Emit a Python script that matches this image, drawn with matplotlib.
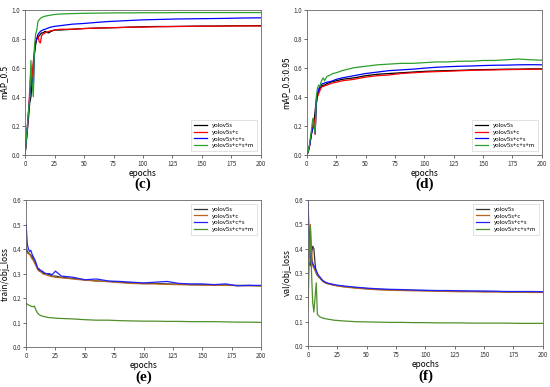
import matplotlib.pyplot as plt

epochs = [0, 1, 2, 3, 4, 5, 6, 7, 8, 9, 10, 11, 12, 13, 14, 15, 17, 20, 22, 25,
          30, 40, 50, 60, 70, 80, 90, 100, 110, 120, 130, 140, 150, 160, 170, 180, 190, 200]
names = ["yolov5s", "yolov5s+c", "yolov5s+c+s", "yolov5s+c+s+m"]

# (c) mAP_0.5
map50_base = [0.0, 0.08, 0.17, 0.26, 0.36, 0.4, 0.5, 0.62, 0.7, 0.76, 0.8, 0.81, 0.82, 0.83, 0.84, 0.84, 0.85, 0.84, 0.85, 0.86,
              0.86, 0.865, 0.87, 0.873, 0.875, 0.877, 0.88, 0.882, 0.884, 0.884, 0.885, 0.886, 0.887, 0.887, 0.888, 0.889, 0.889, 0.89]
map50_c = [0.0, 0.09, 0.18, 0.3, 0.45, 0.6, 0.5, 0.64, 0.72, 0.78, 0.8, 0.82, 0.78, 0.77, 0.82, 0.83, 0.84, 0.85, 0.855, 0.86,
           0.865, 0.865, 0.87, 0.873, 0.875, 0.877, 0.879, 0.88, 0.882, 0.883, 0.884, 0.885, 0.886, 0.886, 0.887, 0.888, 0.888, 0.887]
map50_cs = [0.0, 0.1, 0.2, 0.3, 0.4, 0.48, 0.53, 0.45, 0.7, 0.78, 0.8, 0.83, 0.84, 0.85, 0.855, 0.86, 0.865, 0.875, 0.88, 0.885,
            0.89, 0.9, 0.905, 0.912, 0.918, 0.922, 0.926, 0.93, 0.932, 0.934, 0.936, 0.937, 0.938, 0.939, 0.94, 0.942, 0.943, 0.944]
map50_csm = [0.0, 0.1, 0.2, 0.3, 0.4, 0.65, 0.5, 0.4, 0.75, 0.83, 0.86, 0.92, 0.93, 0.94, 0.945, 0.95, 0.955, 0.96, 0.963, 0.967,
             0.97, 0.973, 0.975, 0.976, 0.977, 0.978, 0.978, 0.979, 0.979, 0.979, 0.98, 0.98, 0.98, 0.98, 0.98, 0.98, 0.98, 0.98]

# (d) mAP_0.5:0.95
map95_base = [0, 0.02, 0.05, 0.1, 0.15, 0.2, 0.22, 0.3, 0.38, 0.42, 0.44, 0.46, 0.47, 0.475, 0.48, 0.48, 0.49, 0.5, 0.505, 0.51,
              0.52, 0.53, 0.545, 0.555, 0.56, 0.565, 0.57, 0.575, 0.578, 0.58, 0.582, 0.585, 0.587, 0.588, 0.59, 0.59, 0.592, 0.592]
map95_c = [0, 0.02, 0.05, 0.1, 0.15, 0.2, 0.25, 0.14, 0.35, 0.4, 0.42, 0.44, 0.46, 0.47, 0.47, 0.475, 0.48, 0.49, 0.495, 0.5,
           0.51, 0.52, 0.535, 0.545, 0.55, 0.56, 0.565, 0.57, 0.573, 0.576, 0.579, 0.582, 0.584, 0.585, 0.587, 0.588, 0.589, 0.59]
map95_cs = [0, 0.02, 0.05, 0.1, 0.15, 0.18, 0.2, 0.15, 0.35, 0.42, 0.45, 0.47, 0.48, 0.49, 0.49, 0.495, 0.5, 0.505, 0.51, 0.52,
            0.53, 0.545, 0.56, 0.57, 0.58, 0.585, 0.59, 0.597, 0.603, 0.607, 0.61, 0.612, 0.615, 0.617, 0.618, 0.62, 0.621, 0.62]
map95_csm = [0, 0.02, 0.06, 0.12, 0.18, 0.25, 0.2, 0.15, 0.4, 0.46, 0.48, 0.47, 0.5, 0.52, 0.53, 0.51, 0.54, 0.55, 0.56, 0.565,
             0.58, 0.6, 0.61, 0.62, 0.625, 0.63, 0.63, 0.635, 0.64, 0.64, 0.645, 0.645, 0.65, 0.65, 0.655, 0.66, 0.655, 0.652]

# (e) train/obj_loss
tobj_base = [0.41, 0.39, 0.385, 0.38, 0.375, 0.37, 0.36, 0.35, 0.34, 0.33, 0.32, 0.315, 0.31, 0.31, 0.305, 0.3, 0.3, 0.295, 0.29, 0.29,
             0.285, 0.28, 0.275, 0.27, 0.268, 0.265, 0.262, 0.26, 0.26, 0.258, 0.257, 0.255, 0.255, 0.254, 0.253, 0.252, 0.252, 0.25]
tobj_c = [0.39, 0.385, 0.38, 0.38, 0.37, 0.36, 0.355, 0.345, 0.335, 0.325, 0.315, 0.31, 0.308, 0.305, 0.3, 0.298, 0.295, 0.29, 0.288, 0.285,
          0.283, 0.278, 0.273, 0.27, 0.267, 0.263, 0.26, 0.258, 0.258, 0.256, 0.255, 0.254, 0.253, 0.252, 0.252, 0.251, 0.25, 0.25]
tobj_cs = [0.5, 0.42, 0.4, 0.39, 0.395, 0.38, 0.37, 0.36, 0.35, 0.335, 0.32, 0.32, 0.315, 0.31, 0.31, 0.305, 0.3, 0.3, 0.295, 0.31,
           0.29, 0.285, 0.275, 0.278, 0.27, 0.268, 0.265, 0.262, 0.265, 0.268, 0.26, 0.258, 0.258, 0.255, 0.258, 0.25, 0.252, 0.252]
tobj_csm = [0.18, 0.175, 0.172, 0.17, 0.168, 0.165, 0.165, 0.168, 0.155, 0.145, 0.138, 0.133, 0.13, 0.128, 0.126, 0.125, 0.123, 0.12, 0.12, 0.118,
            0.117, 0.115, 0.112, 0.11, 0.11, 0.108, 0.107, 0.106, 0.106, 0.105, 0.105, 0.104, 0.104, 0.104, 0.103, 0.102, 0.102, 0.101]

# (f) val/obj_loss
vobj_base = [0.35, 0.34, 0.33, 0.38, 0.41, 0.4, 0.34, 0.3, 0.29, 0.285, 0.28, 0.275, 0.27, 0.265, 0.262, 0.26, 0.257, 0.253, 0.25, 0.248,
             0.245, 0.24, 0.236, 0.233, 0.231, 0.23, 0.229, 0.228, 0.227, 0.226, 0.225, 0.225, 0.224, 0.224, 0.223, 0.223, 0.222, 0.222]
vobj_c = [0.33, 0.42, 0.5, 0.4, 0.33, 0.32, 0.31, 0.3, 0.29, 0.285, 0.28, 0.275, 0.27, 0.265, 0.262, 0.258, 0.255, 0.252, 0.25, 0.247,
          0.243, 0.238, 0.234, 0.231, 0.229, 0.228, 0.227, 0.226, 0.225, 0.224, 0.223, 0.223, 0.222, 0.222, 0.221, 0.221, 0.22, 0.22]
vobj_cs = [0.6, 0.45, 0.37, 0.35, 0.34, 0.33, 0.32, 0.31, 0.3, 0.29, 0.285, 0.278, 0.272, 0.268, 0.265, 0.262, 0.258, 0.255, 0.253, 0.25,
           0.247, 0.242, 0.238, 0.235, 0.233, 0.232, 0.23, 0.229, 0.228, 0.228, 0.227, 0.226, 0.226, 0.225, 0.224, 0.224, 0.224, 0.223]
vobj_csm = [0.15, 0.35, 0.49, 0.3, 0.18, 0.14, 0.2, 0.26, 0.13, 0.125, 0.12, 0.118, 0.116, 0.114, 0.113, 0.112, 0.11, 0.108, 0.106, 0.105,
            0.103, 0.1, 0.099, 0.098, 0.097, 0.097, 0.096, 0.096, 0.095, 0.095, 0.095, 0.094, 0.094, 0.094, 0.094, 0.093, 0.093, 0.093]

top_colors = ["black", "red", "blue", "#2ca02c"]
bot_colors = ["#333333", "#b5651d", "#2020ff", "#4f8f2a"]

plt.rcParams['font.family'] = ['Noto Sans CJK SC', 'DejaVu Sans']

fig = plt.figure(figsize=(5.5, 3.87), dpi=100)

panels = [
    ([0.0455, 0.600, 0.429, 0.375], "mAP_0.5", [map50_base, map50_c, map50_cs, map50_csm], top_colors, (0, 1.0), "lower right", "(c)"),
    ([0.558, 0.600, 0.427, 0.375], "mAP_0.5:0.95", [map95_base, map95_c, map95_cs, map95_csm], top_colors, (0, 1.0), "lower right", "(d)"),
    ([0.0475, 0.103, 0.427, 0.380], "train/obj_loss", [tobj_base, tobj_c, tobj_cs, tobj_csm], bot_colors, (0, 0.6), "upper right", "(e)"),
    ([0.560, 0.106, 0.427, 0.377], "val/obj_loss", [vobj_base, vobj_c, vobj_cs, vobj_csm], bot_colors, (0, 0.6), "upper right", "(f)"),
]

for rect, ylab, series, colors, ylim, loc, tag in panels:
    ax = fig.add_axes(rect)
    for vals, col, nm in zip(series, colors, names):
        ax.plot(epochs, vals, color=col, lw=0.9, label=nm)
    ax.set_xlim(0, 200)
    ax.set_ylim(*ylim)
    ax.set_xticks([0, 25, 50, 75, 100, 125, 150, 175, 200])
    if ylim[1] == 1.0:
        ax.set_yticks([0, 0.2, 0.4, 0.6, 0.8, 1.0])
    else:
        ax.set_yticks([0, 0.1, 0.2, 0.3, 0.4, 0.5, 0.6])
    ax.yaxis.set_major_formatter(plt.FormatStrFormatter('%.1f'))
    ax.tick_params(labelsize=4.5, length=2, width=0.5, pad=1.5, colors='#333333')
    for s in ax.spines.values():
        s.set_linewidth(0.6)
        s.set_color('#666666')
    ax.set_xlabel("epochs", fontsize=6, labelpad=1)
    ax.set_ylabel(ylab, fontsize=6, labelpad=2)
    leg = ax.legend(loc=loc, fontsize=4.3, frameon=True, fancybox=False,
                    handlelength=2.2, borderpad=0.5, labelspacing=0.25,
                    borderaxespad=0.6)
    leg.get_frame().set_linewidth(0.5)
    bb = rect
    fig.text(bb[0] + bb[2] / 2, bb[1] - 0.077, tag, ha='center', va='center',
             fontsize=11, family='Liberation Serif', fontweight='bold')

fig.savefig("out.png", dpi=100)
